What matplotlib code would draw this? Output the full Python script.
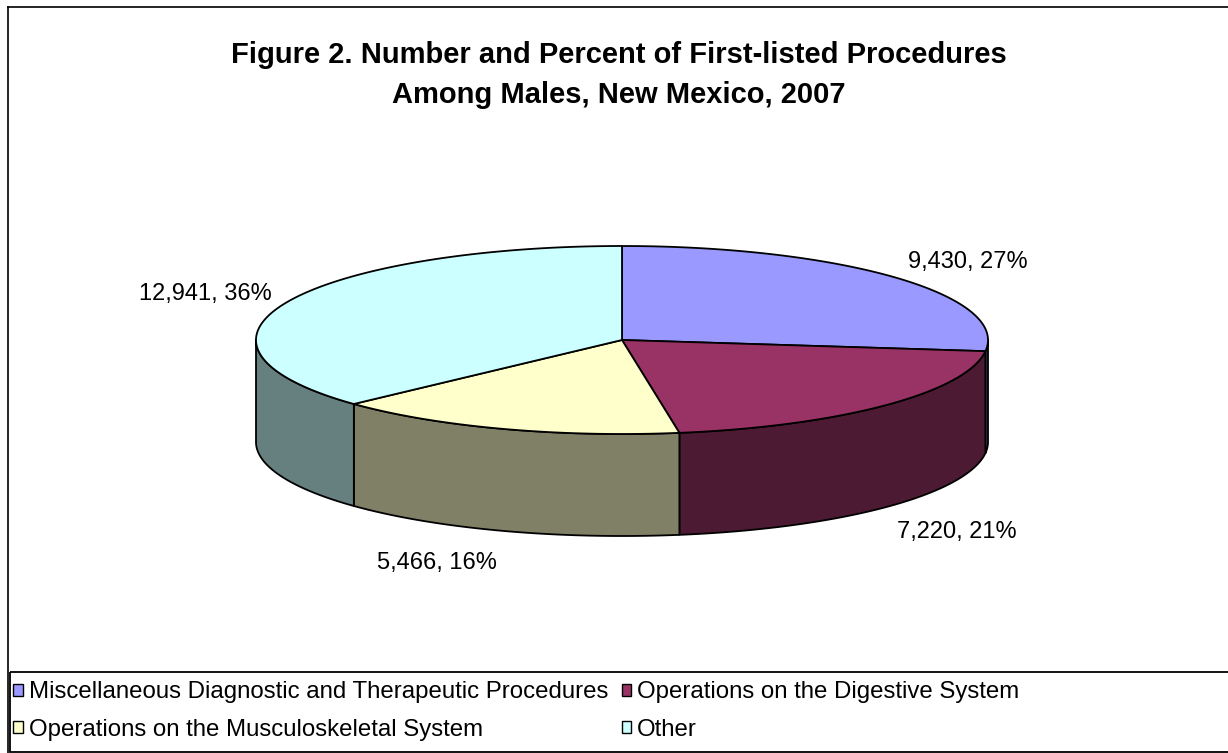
import numpy as np
import matplotlib
matplotlib.use('Agg')
import matplotlib.pyplot as plt
from matplotlib.patches import Polygon, Rectangle, Patch

# Data
categories = ['Miscellaneous Diagnostic and Therapeutic Procedures',
              'Operations on the Digestive System',
              'Operations on the Musculoskeletal System',
              'Other']
counts = [9430, 7220, 5466, 12941]
percents = [27, 21, 16, 36]
title_lines = ['Figure 2. Number and Percent of First-listed Procedures',
               'Among Males, New Mexico, 2007']

top_colors = ['#9999FF', '#993366', '#FFFFCC', '#CCFFFF']
side_colors = ['#4D4D80', '#4D1A33', '#808066', '#668080']

plt.rcParams['font.family'] = ['Liberation Sans', 'DejaVu Sans']

W, H = 1228, 753
fig = plt.figure(figsize=(W / 100, H / 100), dpi=100)
ax = fig.add_axes([0, 0, 1, 1])
ax.set_xlim(0, W)
ax.set_ylim(H, 0)
ax.axis('off')

# pie geometry in pixels (fake 3D: ellipse top + extruded side)
cx, cy = 622, 340
rx, ry = 366, 94
depth = 102


def ellipse(t, drop=0):
    t = np.radians(np.atleast_1d(t))
    return np.column_stack([cx + rx * np.cos(t), cy - ry * np.sin(t) + drop])


fracs = np.array(counts) / sum(counts)
bounds = 90 - 360 * np.concatenate([[0], np.cumsum(fracs)])

# side walls - only the front half (sin < 0) is visible
for i in range(len(counts)):
    hi, lo = bounds[i], bounds[i + 1]
    for k in (-1, 0):
        a, b = max(lo, -180 + 360 * k), min(hi, 360 * k)
        if b > a:
            t = np.linspace(a, b, 200)
            pts = np.vstack([ellipse(t), ellipse(t[::-1], depth)])
            ax.add_patch(Polygon(pts, closed=True, fc=side_colors[i],
                                 ec='black', lw=1.3, joinstyle='round'))

# top faces
for i in range(len(counts)):
    t = np.linspace(bounds[i], bounds[i + 1], 300)
    pts = np.vstack([[cx, cy], ellipse(t)])
    ax.add_patch(Polygon(pts, closed=True, fc=top_colors[i],
                         ec='black', lw=1.3, joinstyle='round'))

# data labels outside each slice
for i in range(len(counts)):
    mid = (bounds[i] + bounds[i + 1]) / 2
    c, s = np.cos(np.radians(mid)), np.sin(np.radians(mid))
    x, y = ellipse(mid)[0]
    if s < 0:
        y += depth
    ax.text(x + 16 * c, y - 30 * s + 4, f'{counts[i]:,}, {percents[i]}%',
            ha='left' if c > 0 else 'right', va='center', fontsize=17)

# title
for j, line in enumerate(title_lines):
    ax.text(619, 55 + 40 * j, line, ha='center', va='center',
            fontsize=21, fontweight='bold')

# chart border (cropped on right / bottom)
ax.plot([8, W], [7, 7], color='black', lw=1.2)
ax.plot([8, 8], [7, H], color='black', lw=1.2)

# legend box + entries
ax.add_patch(Rectangle((10, 672), W, 80, fc='none', ec='black', lw=1.3))
handles = [Patch(fc=top_colors[i], ec='black', lw=1.0) for i in range(4)]
order = [0, 2, 1, 3]
ax.legend([handles[i] for i in order], [categories[i] for i in order],
          ncol=2, loc='upper left', bbox_to_anchor=(11 / W, 1 - 679 / H),
          frameon=False, fontsize=17.3, handlelength=0.4, handleheight=0.4,
          handletextpad=0.25, columnspacing=0.55, labelspacing=0.64,
          borderaxespad=0, borderpad=0.1)

fig.savefig('out.png', dpi=100)
